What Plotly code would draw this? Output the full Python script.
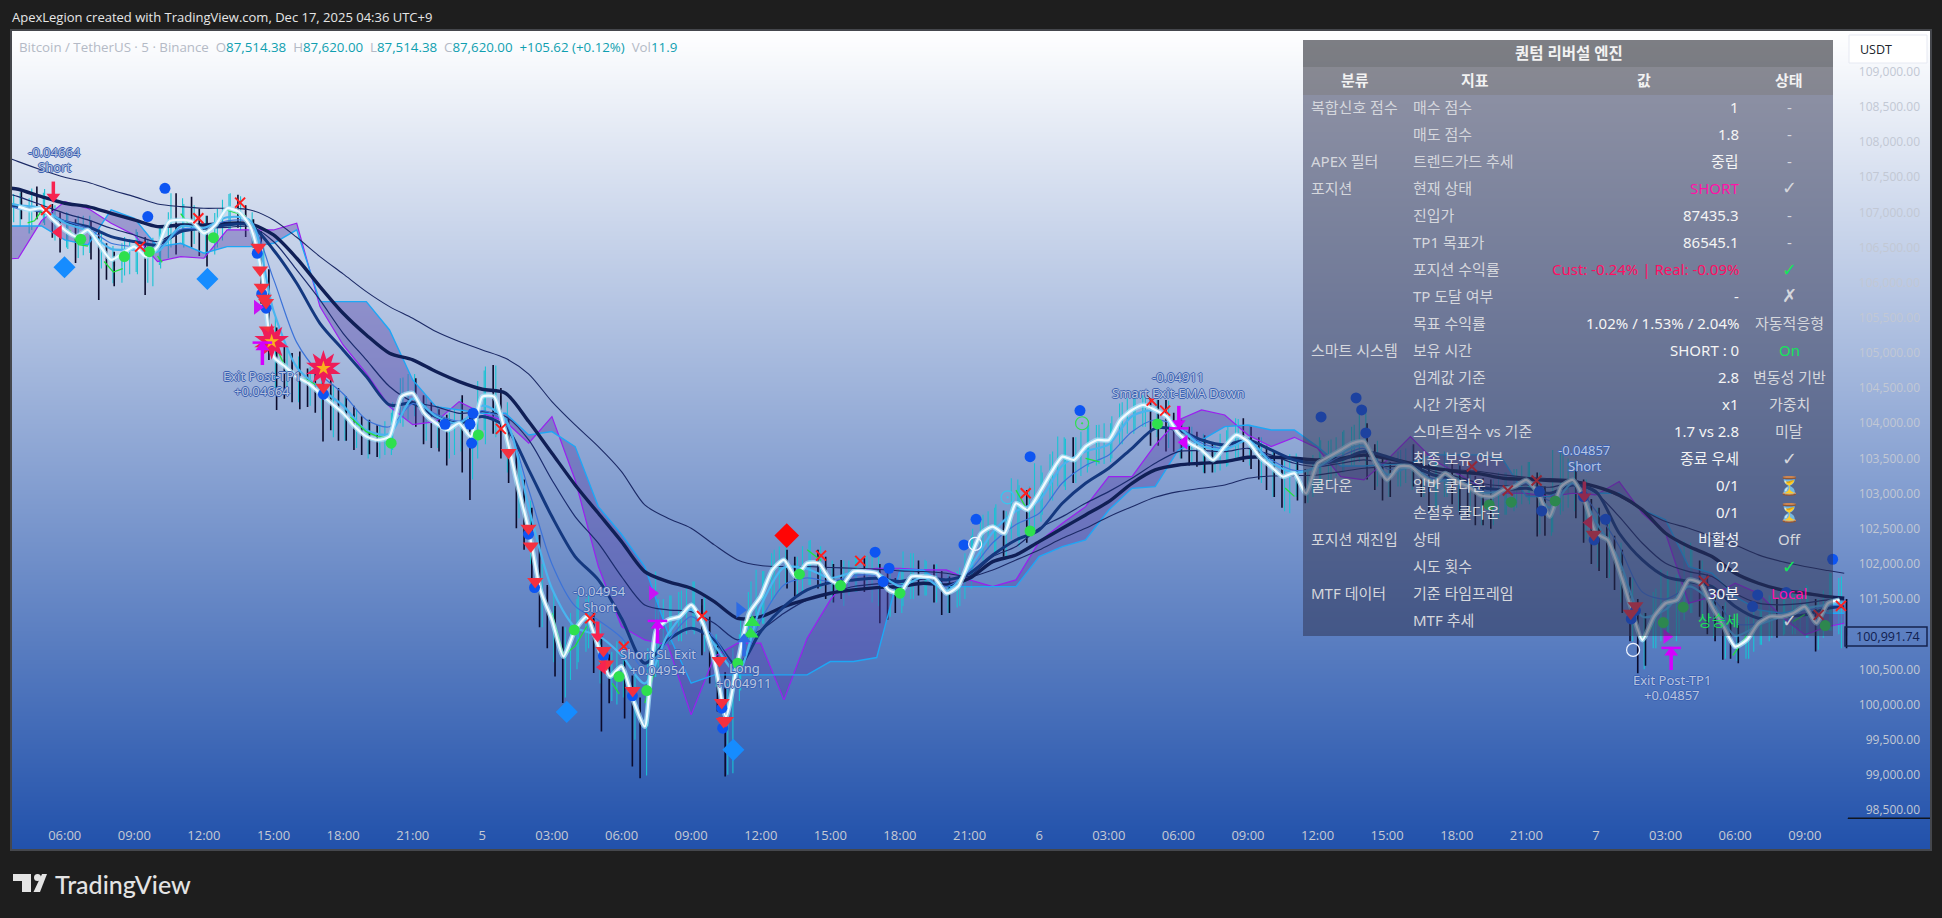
import plotly.graph_objects as go

# ---------- candles (one bar per 20 min, hours since Dec 4 00:00) ----------
bar_close = [107150,107060,107100,107010,107080,106880,106760,106830,106640,106700,106640,106500,106340,106240,106400,106460,106520,106360,106450,106590,106850,106800,106900,106860,106770,106700,106820,107000,107080,107010,106890,106720,106180,105350,104900,104820,104700,104640,104570,104500,104420,104300,104200,104120,103970,103850,103800,103770,103790,104050,104370,104420,104370,104150,104050,103980,103900,103950,103930,103820,104150,104400,104380,104050,103600,103180,102750,102400,101660,101330,101100,100720,100900,101110,101240,100950,100700,100420,100500,100400,100080,99700,100400,101050,101130,101220,101250,101350,101400,101170,100820,100450,99830,100300,100750,101280,101470,101640,101900,102040,102000,101830,101950,102020,101980,101850,101730,101720,101840,101900,101870,101880,101780,101640,101560,101650,101830,101800,101820,101780,101650,101590,101670,101890,102200,102420,102510,102520,102450,102780,102820,102770,102950,103050,103280,103450,103510,103480,103600,103690,103760,103770,103850,104050,104170,104210,104260,104210,104180,104100,103900,103820,103720,103650,103600,103490,103600,103720,103830,103780,103700,103530,103430,103340,103240,103290,103240,103020,103270,103450,103530,103590,103640,103710,103780,103640,103440,103270,103210,103370,103390,103350,103240,103170,103190,103300,103170,103150,103100,103000,102970,102950,103030,103060,103100,103180,103180,103020,102780,102800,103090,103160,103120,102910,102520,102420,102340,102020,101800,101400,101100,100930,101240,101380,101450,101500,101690,101760,101730,101500,101300,101120,100930,100820,100910,101080,101170,101260,101240,101260,101310,101370,101390,101160,101340,101450,101490,100991]
bar_high = [107260,107300,107200,107366,107330,107120,107000,106990,106900,106950,106880,106760,106560,106440,106560,106620,106720,106650,106640,106800,107000,107271,107120,107223,107050,106950,106990,107180,107271,107250,107100,106900,106500,105800,105300,105100,105000,105020,104780,104700,104750,104640,104500,104380,104250,104100,104050,103970,104030,104300,104640,104700,104640,104400,104300,104200,104120,104200,104400,104200,104600,104806,104830,104500,104000,103600,103200,102800,102200,101700,101400,101050,101300,101559,101500,101300,101000,100700,100900,100700,100350,100100,100800,101891,101500,101550,101600,101650,101749,101500,101250,100800,100300,100800,101200,101600,101915,101900,102150,102246,102200,102100,102250,102341,102200,102100,102000,102057,102050,102100,102080,102100,102000,101950,101800,102175,102152,102050,102040,101990,101900,101820,101900,102150,102500,102672,102750,102850,102760,103217,103120,103050,103430,103300,103560,103810,103780,103800,103880,103976,103976,104000,104100,104280,104355,104400,104400,104360,104331,104331,104150,104050,103950,103880,103830,103720,103850,103950,104070,104070,103950,103800,103680,103600,103550,103560,103500,103350,103550,103760,103750,103800,103900,103950,104190,104000,103700,103500,103450,103600,103640,103700,103550,103420,103500,103600,103450,103400,103350,103250,103220,103200,103300,103300,103350,103400,103450,103300,103100,103621,103621,103500,103400,103200,102800,102800,102650,102400,102200,101800,101500,101300,101600,101915,101800,101850,102318,102200,102050,101850,101600,101400,101250,101150,101250,101400,101500,101550,101500,101550,101620,101650,101680,101500,101620,101867,101800,101500]
bar_low = [106860,106900,106700,106900,106820,106640,106430,106480,106280,106390,106330,105754,106040,105950,106000,106120,106120,105825,105950,106200,106350,106400,106500,106500,106380,106228,106400,106600,106760,106780,106650,106500,105700,104900,104190,104350,104300,104200,104230,104150,103740,103900,103750,103750,103620,103550,103560,103520,103550,103620,104000,104050,103950,103700,103650,103600,103400,103550,103300,102910,103500,103700,103850,103500,103150,102507,102200,101700,101100,100800,100400,100020,100350,100600,100750,100450,99616,100018,100000,99800,99118,98952,99800,100600,100800,100850,100900,101000,101000,100700,100300,99900,98976,99023,100200,100800,101000,101150,101450,101600,101650,101535,101600,101700,101650,101500,101450,101500,101550,101600,101600,101450,101156,101204,101300,101400,101500,101550,101550,101450,101274,101300,101380,101500,101800,102100,102200,102150,102100,102350,102246,102300,102500,102700,102900,103100,103051,103150,103250,103383,103400,103420,103500,103700,103850,103900,103950,103680,103680,103600,103596,103500,103400,103380,103288,103300,103330,103400,103500,103450,103350,103200,103050,102950,102800,102720,102900,102862,102950,103100,103150,103250,103300,103400,103450,103200,103050,102900,102950,103100,103150,103100,102950,102750,102800,102950,102850,102700,102650,102550,102550,102500,102650,102700,102750,102850,102850,102389,102400,102450,102700,102800,102650,102300,102000,101900,101800,101630,101300,100900,100445,100550,100800,100900,101000,100900,101200,101300,101250,101000,100900,100635,100650,100587,100650,100750,100850,100900,100950,101000,101000,101050,100950,100753,100950,101050,101000,100800]

# ---------- fast smoothed close (white line), one value per half hour from 04:00 ----------
smooth_close = [107081,107034,107057,106892,106749,106655,106749,106536,106323,106418,106512,106370,106512,106868,106892,106868,106702,106820,107057,107010,106797,106133,104948,104806,104664,104569,104427,104285,104142,103953,103811,103763,103811,104379,104427,104142,104000,103905,104000,103811,104379,104379,103858,103147,102483,101630,101204,100682,101061,101251,100825,100398,100540,100066,99687,101061,101204,101251,101417,101156,100635,99829,100587,101298,101535,101915,102057,101820,102009,102009,101772,101701,101891,101891,101867,101630,101583,101820,101820,101796,101582,101677,102056,102435,102530,102435,102862,102767,103004,103288,103525,103478,103668,103762,103762,104047,104189,104260,104189,104094,103857,103715,103620,103478,103668,103834,103739,103525,103383,103241,103288,103004,103431,103525,103620,103716,103740,103431,103194,103384,103384,103242,103147,103289,103171,103100,102981,102957,103052,103100,103194,103005,102673,103100,103194,102910,102436,102341,101915,101393,100919,101251,101441,101488,101772,101725,101393,101109,100824,100919,101156,101251,101251,101298,101393,101156,101441,101488]

# ---------- extra thin teal wicks, half-hourly ----------
teal_high = [107280,107340,107280,107100,107000,106950,106950,106700,106520,106650,106760,106620,106780,107270,107200,107100,106950,107050,107260,107230,107000,106500,105500,105100,104950,104800,104750,104550,104400,104200,104050,103980,104150,104650,104700,104400,104250,104150,104350,104150,104750,104820,104300,103550,102900,102000,101600,101100,101500,101550,101150,100750,100900,100450,100250,101500,101550,101620,101750,101550,101000,100300,101000,101750,101900,102200,102280,102100,102330,102250,102050,102050,102100,102120,102100,101950,101900,102150,102060,102000,101850,101950,102400,102700,102800,102750,103200,103100,103400,103600,103800,103800,103950,103980,104000,104300,104380,104400,104330,104320,104050,103950,103850,103720,103900,104060,103980,103800,103620,103550,103570,103350,103800,103770,103880,103980,104200,103750,103500,103620,103680,103550,103450,103580,103420,103360,103220,103200,103300,103350,103450,103300,103000,103621,103450,103200,102800,102650,102300,101800,101300,101650,101900,101850,102300,102050,101700,101450,101150,101250,101480,101550,101550,101620,101700,101500,101870,101820]
teal_low = [106800,106750,106850,106600,106500,106350,106420,106200,105990,106100,106150,106000,106250,106500,106550,106550,106350,106500,106750,106750,106500,105700,104500,104500,104300,104250,104050,103800,103750,103650,103500,103500,103550,103950,104100,103750,103650,103500,103600,103200,103900,103800,103300,102650,102000,101100,100600,100100,100500,100800,100300,100050,100100,99500,98990,100500,100850,100900,101050,100750,100250,99000,100050,100850,101150,101500,101700,101550,101700,101650,101450,101400,101600,101650,101400,101250,101300,101500,101550,101450,101300,101400,101650,102050,102150,102100,102400,102400,102600,102900,103100,103150,103300,103420,103450,103700,103850,103950,103800,103650,103500,103450,103300,103300,103380,103500,103400,103150,102950,102750,102950,102870,103050,103200,103300,103400,103350,103100,102950,103100,103050,102950,102800,102950,102750,102700,102550,102550,102700,102800,102900,102420,102400,102750,102750,102350,101950,101800,101450,100900,100500,100800,100950,101000,101300,101250,100950,100650,100620,100650,100850,100950,100980,101000,100950,100780,101050,100800]

# ---------- slower averages: 03:42, then hourly 04:00 .. 82:00, then 82:42 ----------
ma_top = [107760,107721,107603,107498,107427,107318,107223,107119,107081,107057,107057,107034,106892,106645,106370,106124,105872,105659,105493,105304,105162,105043,104924,104700,104308,103976,103668,103313,102839,102649,102507,102270,102057,101976,101962,101962,101948,101938,101924,101900,101891,101866,101819,101914,102056,102198,102364,102506,102672,102814,102947,103028,103075,103122,103217,103250,103255,103265,103312,103360,103383,103384,103360,103337,103313,103266,103232,103213,103194,103100,102957,102768,102602,102507,102389,102270,102128,102033,101962,101905,101867]
ma_slow = [107342,107328,107223,107129,107081,106986,106892,106797,106820,106820,106844,106835,106678,106347,105944,105564,105256,104996,104901,104735,104593,104484,104427,104024,103574,103123,102720,102317,101891,101749,101654,101464,101227,101251,101393,101497,101583,101630,101663,101678,101725,101700,101795,102032,102127,102317,102506,102696,102885,103146,103336,103407,103431,103454,103516,103516,103502,103478,103502,103549,103502,103431,103360,103313,103280,103218,103204,103185,103171,103100,102981,102768,102436,102246,102104,101867,101725,101630,101583,101535,101512]
ma_mid = [107100,107081,107010,106868,106797,106655,106584,106536,106726,106773,106820,106820,106465,105991,105422,105043,104664,104261,104285,104095,104000,104095,103953,103337,102673,102104,101772,101227,100587,100919,101085,100919,100540,101038,101393,101630,101734,101772,101796,101749,101820,101772,101866,102127,102340,102483,102862,103146,103360,103644,103928,103905,103762,103691,103762,103620,103478,103431,103478,103597,103525,103408,103265,103194,103090,103052,103076,103005,103123,103028,102436,102057,101820,101749,101678,101393,101227,101251,101275,101370,101393]
ma_thin = [107250,107223,107105,106986,106892,106773,106678,106584,106750,106773,106787,106797,106584,106181,105754,105280,104901,104522,104308,104237,104142,104166,104095,103763,103194,102673,102294,101820,101417,101346,101322,101156,100919,101061,101298,101488,101583,101678,101716,101734,101782,101781,101828,102103,102246,102506,102672,102862,103028,103217,103431,103597,103611,103597,103644,103549,103431,103383,103431,103478,103431,103431,103313,103242,103147,103109,103123,103090,103147,103005,102673,102294,102009,101891,101820,101583,101441,101417,101441,101488,101488]
ma_light = [107120,107100,107060,106850,106730,106480,106470,106440,106800,106780,106930,106880,105600,104800,104500,104250,103900,103850,104350,104100,104000,104250,104050,102800,101650,101100,100980,100700,100300,101000,101350,100850,100450,101400,101950,101930,101800,101880,101870,101680,101810,101620,101950,102450,102750,102900,103400,103600,103700,104100,104180,103950,103680,103620,103760,103440,103300,103380,103580,103680,103270,103380,103180,103200,103020,103040,103170,102800,103150,102600,102050,101250,101350,101680,101450,100980,101130,101250,101360,101420,101440]
ma_blue = [107080,107050,107010,106880,106770,106560,106510,106480,106760,106770,106880,106860,106050,105150,104700,104420,104050,103950,104280,104130,104030,104180,104000,103050,102000,101400,101200,100950,100500,100900,101250,100950,100500,101200,101700,101800,101750,101830,101840,101700,101800,101680,101900,102300,102560,102720,103150,103400,103550,103880,104050,103950,103720,103640,103750,103480,103330,103370,103530,103640,103350,103380,103210,103200,103050,103050,103140,102900,103130,102750,102250,101600,101500,101650,101520,101150,101150,101240,101330,101400,101420]

# ---------- cloud, same hours as the averages ----------
cloud_violet = [106340,106347,106882,107152,107057,106844,106678,106299,106370,106347,106749,106749,106749,106844,105659,105114,104711,104237,103980,104024,104308,104142,104024,103716,104095,103194,101962,101109,100919,100848,99853,100682,100872,100872,100066,100943,101488,101891,101938,101938,101915,101914,101772,101677,101772,102317,102577,102814,103241,103241,103691,104047,104189,104118,103834,103668,103800,103644,103241,103194,103479,103811,103479,103289,103100,103005,103005,102957,103005,102981,103171,102720,102436,101441,101535,101725,101583,101251,100990,101109,101156]
cloud_cyan = [106806,106806,106806,106607,106536,107034,106915,106512,106560,106418,106512,106512,106560,106750,105730,105730,105730,105327,104616,104237,104190,104142,104142,103834,103882,103668,102815,102422,101962,101014,100303,100422,100422,100422,100422,100422,100611,100611,100668,101914,101914,101677,101677,101677,101677,102103,102246,102340,102767,103075,103099,103620,103762,103952,103976,103905,103905,103668,103393,103393,103408,103431,103550,103550,103550,103479,102957,102957,103194,103005,103005,102768,102626,101962,101867,101535,101346,101299,101370,101299,101299]

# ---------- green trailing line pieces ----------
trail_hours = [4.4,4.7,5.0,None,6.2,6.6,7.0,None,7.7,8.1,8.5,None,10.0,10.2,None,11.0,11.3,None,13.0,13.8,None,15.0,15.5,None,16.3,16.8,None,18.3,19.0,19.5,20.0,None,27.0,27.5,28.0,28.5,None,29.6,29.9,None,31.0,31.4,None,38.0,38.6,None,47.0,47.4,None,50.0,50.6,None,58.6,59.0,None,74.0,74.4,None,77.9,78.5,None,80.5,81.0]
trail_price = [106850,106880,107020,None,106750,106540,106520,None,106300,106150,106200,None,106380,106290,None,106980,106850,None,107030,106950,None,105170,104800,None,104640,104550,None,104090,103880,103810,103790,None,101300,100700,100830,101110,None,100300,100150,None,100020,100440,None,102200,102050,None,103050,102820,None,103500,103450,None,103080,102960,None,100950,101100,None,100700,100980,None,101180,101280]

# ---------- signal marks ----------
sell_tri_h = [14.35,14.42,14.49,14.59,14.68,14.71,17.15,25.13,25.99,26.09,26.28,29.22,29.34,30.48,34.22,34.32,34.5,34.4,71.9,73.7,73.5]
sell_tri_p = [106503,106181,105934,105778,105716,105327,104512,103583,102507,102256,101749,100767,100578,100199,100625,100028,99772,99758,102422,101403,101298]
blue_dot_h = [10.32,9.58,14.3,14.49,14.68,17.15,22.39,23.47,23.6,23.54,25.99,26.25,29.22,30.47,34.32,34.36,40.93,41.53,41.28,44.76,45.28,47.61,49.76,60.15,61.66,61.9,62.08,69.56,69.66,71.46,72.41,71.92,73.7,73.52,78.97,78.75,80.2,82.2]
blue_dot_p = [107342,106939,106418,105840,105636,104413,103986,103986,104142,103716,102422,101663,100692,100123,99948,99663,102166,101938,101749,102269,102634,103525,104180,104090,104360,104190,103862,103028,102754,102957,102635,102341,101336,101218,101559,101393,101592,102066]
green_dot_h = [6.69,8.57,9.65,12.41,20.07,23.83,27.96,29.89,31.09,35.01,37.67,39.44,42.0,47.61,53.1,67.4,68.35,70.24,74.9,75.76,81.88]
green_dot_p = [106617,106370,106441,106640,103716,103834,101061,100398,100199,100587,101853,101692,101583,102468,103990,102839,102877,102896,101166,101384,101123]
cross_h = [5.2,9.25,11.76,13.56,24.8,28.65,30.1,33.47,38.6,40.29,47.42,52.85,53.43,66.65,68.2,69.44,76.65,81.6,82.56]
cross_p = [107034,106512,106915,107138,103920,101227,100824,101260,102118,102043,103004,104322,104180,103384,103043,103185,101758,101275,101403]
blue_dia_h = [5.99,12.15,27.64,34.82]
blue_dia_p = [106219,106053,99895,99355]
red_dia_h = [37.12]
red_dia_p = [102403]
burst_h = [14.92,17.15]
burst_p = [105162,104782]
left_red_h = [5.73,29.18,71.7]
left_red_p = [106716,100530,102588]
left_mag_h = [54.25]
left_mag_p = [103729]
right_mag_h = [14.3,31.33,75.05]
right_mag_p = [105650,101583,100967]
right_blue_h = [35.1]
right_blue_p = [101346]
up_green_h = [35.64,35.57]
up_green_p = [101166,101004]
ring_white_h = [45.24,73.6]
ring_white_p = [102284,100777]
ring_cyan_h = [46.64]
ring_cyan_p = [102947]
ring_green_h = [49.85]
ring_green_p = [104000]

red_arrow_h = [5.51,28.97,71.5]
red_arrow_tail = [107318,101061,103052]
red_arrow_head = [107223,100967,102957]
mag_up_h = [14.52,31.55,75.24]
mag_up_bar = [105147,101189,100805]
mag_up_head = [105081,101123,100739]
mag_up_tail = [104958,101000,100620]
mag_dn_h = [54.02]
mag_dn_tail = [104118]
mag_dn_head = [104000]
mag_dn_bar = [103928]
blue_up_h = [35.28]
blue_up_head = [100929]
blue_up_tail = [100815]

# ---------- axes ----------
price_ticks = [98500,99000,99500,100000,100500,101500,102000,102500,103000,103500,104000,104500,105000,105500,106000,106500,107000,107500,108000,108500,109000]
time_ticks = [6 + 3 * i for i in range(26)]
time_labels = ["06:00","09:00","12:00","15:00","18:00","21:00","5","03:00","06:00","09:00","12:00","15:00","18:00","21:00","6","03:00","06:00","09:00","12:00","15:00","18:00","21:00","7","03:00","06:00","09:00"]

# ---------- table ----------
table_title = "퀀텀 리버설 엔진"
table_head = ["분류","지표","값","상태"]
table_cat = ["복합신호 점수","","APEX 필터","포지션","","","","","","스마트 시스템","","","","","쿨다운","","포지션 재진입","","MTF 데이터",""]
table_name = ["매수 점수","매도 점수","트렌드가드 추세","현재 상태","진입가","TP1 목표가","포지션 수익률","TP 도달 여부","목표 수익률","보유 시간","임계값 기준","시간 가중치","스마트점수 vs 기준","최종 보유 여부","일반 쿨다운","손절후 쿨다운","상태","시도 횟수","기준 타임프레임","MTF 추세"]
table_value = ["1","1.8","중립","SHORT","87435.3","86545.1","Cust: -0.24% | Real: -0.09%","-","1.02% / 1.53% / 2.04%","SHORT : 0","2.8","x1","1.7 vs 2.8","종료 우세","0/1","0/1","비활성","0/2","30분","상승세"]
table_state = ["-","-","-","✓","-","-","✓","✗","자동적응형","On","변동성 기반","가중치","미달","✓","⏳","⏳","Off","✓","Local","✓"]
value_colors = {3:"#ff12a8",6:"#ff0f63",19:"#19e05a"}
state_colors = {6:"#14e65a",9:"#14e65a",14:"#d9c48f",15:"#d9c48f",17:"#14e65a",18:"#ff12a8",19:"#c8ccd8"}

chart_labels = [("-0.04664",54,152),("Short",54,167),("Exit Post-TP1",262,376),("+0.04664",262,391),
                ("-0.04954",599,591),("Short",599,607),("Short SL Exit",658,654),("+0.04954",658,670),
                ("Long",744,668),("+0.04911",744,683),("-0.04911",1178,377),("Smart Exit-EMA Down",1178,393),
                ("-0.04857",1584,450),("Short",1584,466),("Exit Post-TP1",1672,680),("+0.04857",1672,695)]

# ---------- layout helpers ----------
L, R, T, B = 11, 1931, 30, 850
def px(x): return (x - L) / (R - L)
def py(y): return (B - y) / (B - T)
KR = "Noto Sans, Noto Sans CJK KR, sans-serif"

line_hours = [3.7] + list(range(4, 83)) + [82.7]
smooth_hours = [4 + 0.5 * i for i in range(len(smooth_close))]
bar_hours = [3.8 + i / 3 for i in range(len(bar_close))]
bar_open = [bar_close[0]] + bar_close[:-1]
teal_hours = [h + 0.08 for h in smooth_hours]
XR = [3.685, 86.44]
YR = [97931, 109593]

fig = go.Figure()
fig.add_trace(go.Heatmap(x=XR, y=YR, z=[[0, 0], [1, 1]], zsmooth="best", showscale=False, hoverinfo="skip",
                         colorscale=[[0, "#2151ab"], [1, "#ffffff"]]))
fig.add_trace(go.Scatter(x=line_hours, y=cloud_violet, mode="lines", line=dict(color="#9b1ff0", width=1.2)))
fig.add_trace(go.Scatter(x=line_hours, y=cloud_cyan, mode="lines", line=dict(color="#1ea7f5", width=1.4),
                         fill="tonexty", fillcolor="rgba(88,68,170,0.42)"))
for vals, col, w in [(ma_top, "#1c2a66", 1.1), (ma_thin, "#1b2c6e", 1.2), (ma_slow, "#101f56", 3.4), (ma_mid, "#14387f", 3)]:
    fig.add_trace(go.Scatter(x=line_hours, y=vals, mode="lines", line=dict(color=col, width=w, shape="spline", smoothing=0.8)))
fig.add_trace(go.Candlestick(x=teal_hours, open=smooth_close, close=smooth_close, high=teal_high, low=teal_low,
                             increasing=dict(line=dict(color="#19c3d4", width=1.1)),
                             decreasing=dict(line=dict(color="#19c3d4", width=1.1)), whiskerwidth=0))
fig.add_trace(go.Candlestick(x=bar_hours, open=bar_open, high=bar_high, low=bar_low, close=bar_close,
                             increasing=dict(line=dict(color="#19c3d4", width=1.1), fillcolor="#19c3d4"),
                             decreasing=dict(line=dict(color="#0b0b2c", width=1.6), fillcolor="#0b0b2c"),
                             whiskerwidth=0))
for vals, col, w in [(ma_blue, "#3c73d8", 1.2), (ma_light, "#49b4ee", 2.2)]:
    fig.add_trace(go.Scatter(x=line_hours, y=vals, mode="lines", line=dict(color=col, width=w, shape="spline", smoothing=0.8)))
fig.add_trace(go.Scatter(x=trail_hours, y=trail_price, mode="lines", line=dict(color="#1fe23c", width=1.3)))
fig.add_trace(go.Scatter(x=smooth_hours, y=smooth_close, mode="lines",
                         line=dict(color="rgba(170,228,248,0.75)", width=5, shape="spline", smoothing=0.6)))
fig.add_trace(go.Scatter(x=smooth_hours, y=smooth_close, mode="lines", line=dict(color="#f2fbff", width=2.2, shape="spline", smoothing=0.6)))

def marks(h, p, sym, col, size, **kw):
    m = dict(symbol=sym, color=col, size=size)
    m.update(kw)
    fig.add_trace(go.Scatter(x=h, y=p, mode="markers", marker=m))
def rod(h, p, sym, col, size, w):
    fig.add_trace(go.Scatter(x=h, y=p, mode="markers", marker=dict(symbol=sym, size=size, color=col, line=dict(color=col, width=w))))

marks(blue_dot_h, blue_dot_p, "circle", "#0d55f2", 11)
marks(green_dot_h, green_dot_p, "circle", "#2ee04e", 11)
marks(sell_tri_h, sell_tri_p, "triangle-down", "#f5303f", 14)
marks(cross_h, cross_p, "x-thin-open", "#ff1f1f", 10, line=dict(color="#ff1f1f", width=2))
marks(blue_dia_h, blue_dia_p, "diamond", "#168cff", 17)
marks(red_dia_h, red_dia_p, "diamond", "#ff0505", 19)
marks(left_red_h, left_red_p, "triangle-left", "#f7234f", 13)
marks(left_mag_h, left_mag_p, "triangle-left", "#d400ff", 13)
marks(right_mag_h, right_mag_p, "triangle-right", "#c814f5", 13)
marks(right_blue_h, right_blue_p, "triangle-right", "#2d6be4", 14)
marks(up_green_h, up_green_p, "triangle-up", "#2fe04c", 14)
marks(ring_white_h, ring_white_p, "circle-open", "#f0f4ff", 13, line=dict(color="#f0f4ff", width=1.2))
marks(ring_cyan_h, ring_cyan_p, "circle-open-dot", "#35c8f0", 13, line=dict(color="#35c8f0", width=1.2))
marks(ring_green_h, ring_green_p, "circle-open-dot", "#2ee04e", 13, line=dict(color="#2ee04e", width=1.2))
marks(burst_h, burst_p, "star", "#ee1c58", 26)
marks(burst_h, burst_p, "star", "#ee1c58", 26, angle=36)
marks(burst_h, burst_p, "star", "#f9b21c", 11)
rod(red_arrow_h, red_arrow_tail, "line-ns-open", "#f7234f", 12, 3.5)
marks(red_arrow_h, red_arrow_head, "triangle-down", "#f7234f", 12)
rod(mag_up_h, mag_up_tail, "line-ns-open", "#d400ff", 13, 3.5)
marks(mag_up_h, mag_up_head, "triangle-up", "#d400ff", 12)
rod(mag_up_h, mag_up_bar, "line-ew-open", "#d400ff", 14, 2.5)
rod(mag_dn_h, mag_dn_tail, "line-ns-open", "#d400ff", 13, 3.5)
marks(mag_dn_h, mag_dn_head, "triangle-down", "#d400ff", 12)
rod(mag_dn_h, mag_dn_bar, "line-ew-open", "#d400ff", 14, 2.5)
rod(blue_up_h, blue_up_tail, "line-ns-open", "#2d6be4", 13, 3.5)
marks(blue_up_h, blue_up_head, "triangle-up", "#2d6be4", 12)

# ---------- text ----------
ann = []
def text(x, y, s, color, size=13, anchor="left", family=KR, shadow=None, weight=None):
    f = dict(color=color, size=size, family=family)
    if shadow:
        f["shadow"] = shadow
    if weight:
        f["weight"] = weight
    ann.append(dict(x=px(x), y=py(y), xref="paper", yref="paper", text=s, showarrow=False,
                    xanchor=anchor, yanchor="middle", font=f, align=anchor))

text(10, 17, "ApexLegion created with TradingView.com, Dec 17, 2025 04:36 UTC+9", "#e6e6e6", 13, family="Open Sans")
G, C = "#b4bac6", "#0f9fb0"
legend = (f'<span style="color:{G}">Bitcoin / TetherUS · 5 · Binance  O</span><span style="color:{C}">87,514.38</span>'
          f'<span style="color:{G}">  H</span><span style="color:{C}">87,620.00</span>'
          f'<span style="color:{G}">  L</span><span style="color:{C}">87,514.38</span>'
          f'<span style="color:{G}">  C</span><span style="color:{C}">87,620.00  +105.62 (+0.12%)</span>'
          f'<span style="color:{G}">  Vol</span><span style="color:{C}">11.9</span>')
text(17, 47, legend, G, 13.3, family="Open Sans")
text(1569, 53, table_title, "#f2f2f2", 15.5, "center", weight=700)
for s, x in zip(table_head, [1355, 1475, 1644, 1789]):
    text(x, 80, s, "#f2f2f2", 15, "center", weight=700)
for i in range(len(table_name)):
    y = 107 + 27 * i
    if table_cat[i]:
        text(1309, y, table_cat[i], "#d5d7dd", 15)
    text(1411, y, table_name[i], "#d5d7dd", 15)
    text(1741, y, table_value[i], value_colors.get(i, "#f4f4f4"), 15, "right")
    is_glyph = table_state[i] in "✓✗⏳"
    text(1789, y, table_state[i], state_colors.get(i, "#d5d7dd"), 18 if is_glyph else 15, "center",
         family="DejaVu Sans, " + KR if is_glyph else KR)
OUT = "-1px 0 {0},1px 0 {0},0 -1px {0},0 1px {0}".format("#3d63b4")
for s, x, y in chart_labels:
    text(x, y, s, "#b9c4de", 13, "center", shadow=OUT)
text(53, 884, "TradingView", "#e4e4e4", 25, family="Lato", weight=500)

# price flag / unit box texts
text(1888, 636, "100,991.74", "#10204f", 12.5, "center", family="Open Sans")
text(1858, 49, "USDT", "#20242c", 12.5, family="Open Sans")

# ---------- shapes ----------
def rect(x0, y0, x1, y1, **kw):
    d = dict(type="rect", xref="paper", yref="paper", x0=px(x0), x1=px(x1), y0=py(y0), y1=py(y1), layer="above", line=dict(width=0))
    d.update(kw)
    return d
def poly(pts, color):
    path = "M" + "L".join(f"{px(a):.5f},{py(b):.5f}" for a, b in pts) + "Z"
    return dict(type="path", xref="paper", yref="paper", path=path, fillcolor=color, line=dict(width=0), layer="above")

shapes = [
    rect(1303, 95, 1833, 636, fillcolor="rgba(45,50,80,0.51)"),
    rect(1303, 67, 1833, 95, fillcolor="rgba(50,50,65,0.56)"),
    rect(1303, 40, 1833, 67, fillcolor="rgba(40,42,50,0.6)"),
    rect(1849, 35, 1927, 63, fillcolor="#ffffff", line=dict(color="#e6e9f2", width=1)),
    rect(1845, 627, 1927, 646, line=dict(color="#14234f", width=1.5)),
    rect(1848, 818, 1931, 818.5, line=dict(color="#10151f", width=1)),
    rect(L, T, R, B, line=dict(color="#45474c", width=2), layer="above"),
    poly([(13,874),(31,874),(31,892),(22,892),(22,881),(13,881)], "#e4e4e4"),
    poly([(42,874),(47,874),(40,892),(33.5,892)], "#e4e4e4"),
    dict(type="circle", xref="paper", yref="paper", x0=px(34), x1=px(41), y0=py(881), y1=py(874), fillcolor="#e4e4e4", line=dict(width=0), layer="above"),
]

fig.update_layout(
    width=1942, height=918, autosize=False,
    paper_bgcolor="#1e1e1e", plot_bgcolor="#2151ab",
    margin=dict(l=L, r=1942 - R, t=T, b=918 - B, pad=0),
    showlegend=False, hovermode=False, boxgap=0.85, boxmode="overlay",
    annotations=ann, shapes=shapes,
    xaxis=dict(range=XR, tickmode="array", tickvals=time_ticks, ticktext=time_labels, showgrid=False, zeroline=False,
               ticks="", ticklabelposition="inside", ticklabelstandoff=4, tickfont=dict(color="#c6cad4", size=13, family="Open Sans"),
               rangeslider=dict(visible=False), showline=False),
    yaxis=dict(range=YR, side="right", tickmode="array", tickvals=price_ticks,
               ticktext=[f"{v:,.2f}" for v in price_ticks], showgrid=False, zeroline=False, ticks="",
               ticklabelposition="inside", ticklabelstandoff=8, tickfont=dict(color="#c2c8d4", size=12, family="Open Sans"), showline=False),
)

fig.write_html("out.html", config={"displayModeBar": False, "staticPlot": True},
               post_script="document.body.style.margin='0';document.body.style.background='#1e1e1e';document.body.style.overflow='hidden';")
